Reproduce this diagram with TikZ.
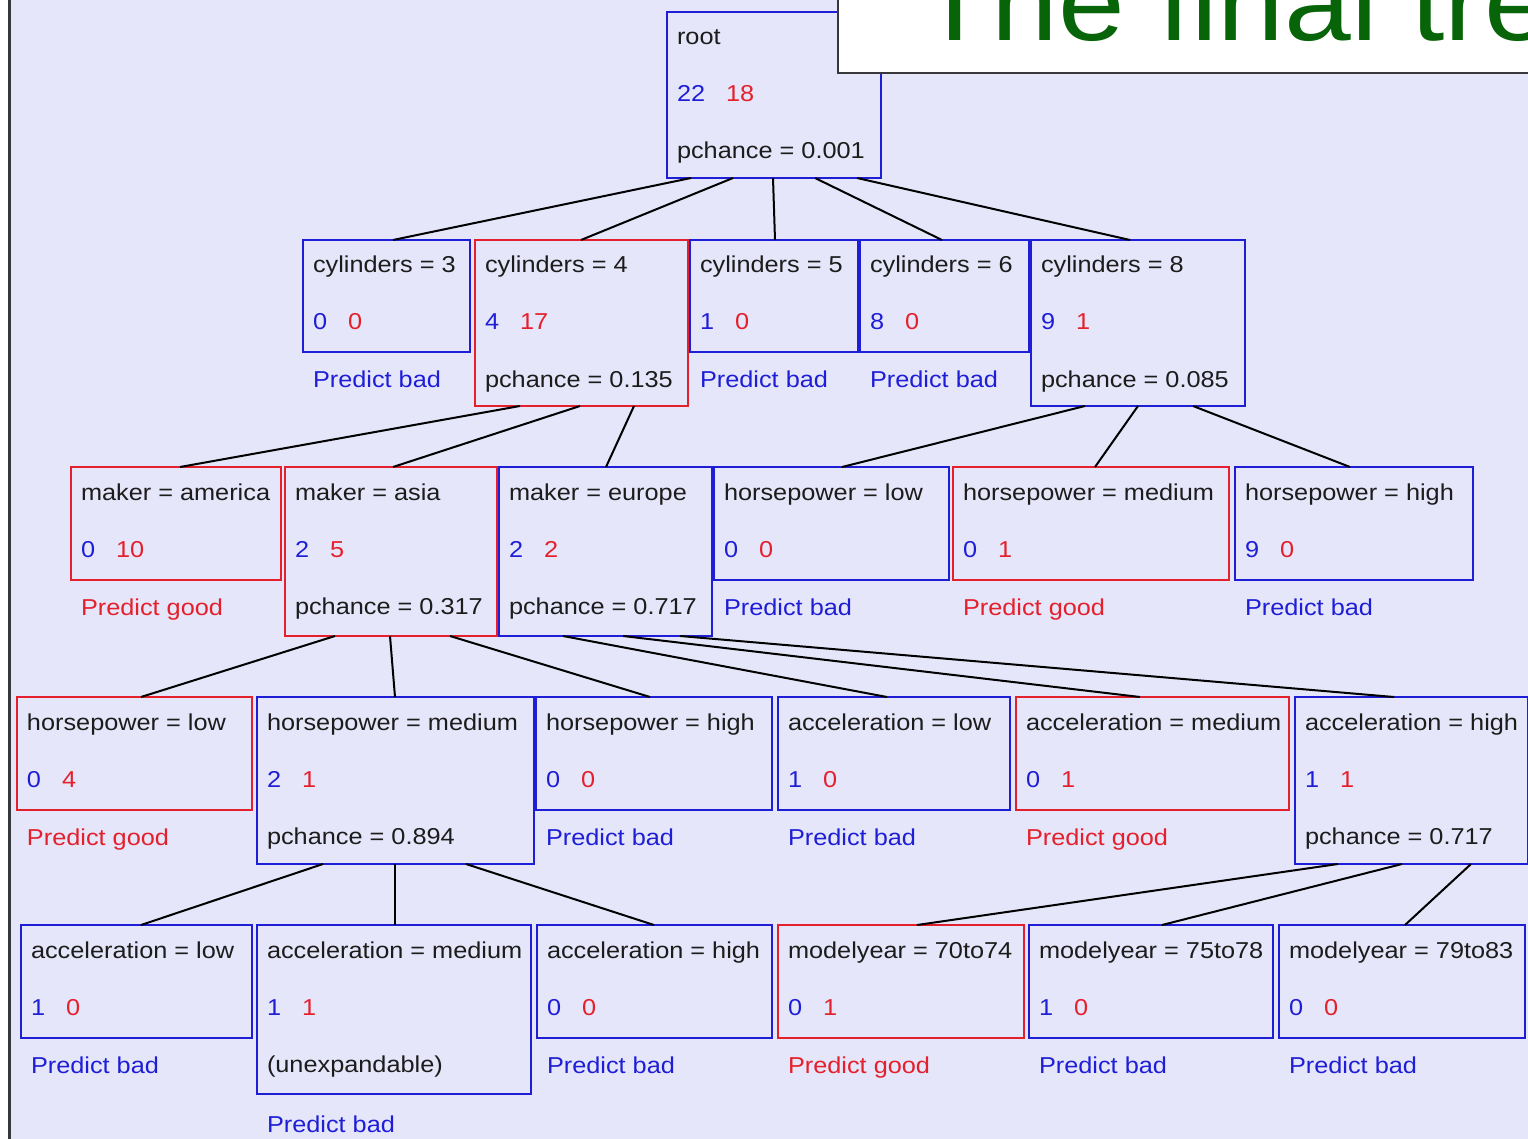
\documentclass[tikz,border=0pt]{standalone}
\usepackage{fontspec}
\newfontfamily\dfont[FakeStretch=1.1]{Liberation Sans}
\usetikzlibrary{calc}
\definecolor{bg}{RGB}{230,230,250}
\definecolor{bblue}{RGB}{30,30,215}
\definecolor{rred}{RGB}{228,32,44}
\definecolor{tgreen}{RGB}{8,100,8}
\definecolor{ink}{RGB}{28,28,28}
\definecolor{frame}{RGB}{55,55,60}
\newcommand\nums[2]{\textcolor{bblue}{#1}\hspace{21pt}\textcolor{rred}{#2}}
\newcommand\bx[6]{\node[box, draw=#6, minimum width={#4-#2}, minimum height={#5-#3}, anchor=north west] (#1) at (#2,#3) {};}
\newcommand\bline[5][txt]{\node[#1, anchor=base west] (#2) at ([xshift=10pt,yshift=-#4pt]#3.north west) {#5};}
\newcommand\edge[4]{\draw[conn] ([xshift=#2pt]#1.south west) -- ([xshift=#4pt]#3.north west);}
\begin{document}
\begin{tikzpicture}[x=1pt,y=-1pt,
  box/.style={line width=2pt, inner sep=0pt, outer sep=0pt},
  txt/.style={inner sep=0pt, outer sep=0pt, text=ink, font=\dfont\fontsize{23}{27}\selectfont},
  pb/.style={txt, text=bblue},
  pg/.style={txt, text=rred},
  conn/.style={line width=2pt, draw=black}]
\useasboundingbox (0,0) rectangle (1528,1139);
\fill[bg] (0,0) rectangle (1528,1139);
\fill[white] (0,0) rectangle (8,1139);
\draw[frame, line width=3pt] (9.5,0) -- (9.5,1139);

% level 0
\bx{root}{667}{12}{881}{178}{bblue}
\bline{root-a}{root}{33}{root}
\bline{root-b}{root}{90}{\nums{22}{18}}
\bline{root-c}{root}{147}{pchance = 0.001}

% title
\node[box, draw=frame, fill=white, minimum width=720, minimum height=80, anchor=north west] (titlebox) at (838,-7) {};
\node[anchor=base west, inner sep=0pt, text=tgreen, font=\dfont\fontsize{109}{110}\selectfont] (title) at (918,41) {The final tre};

% level 1
\bx{cyl3}{303}{240}{470}{352}{bblue}
\bline{cyl3-a}{cyl3}{33}{cylinders = 3}
\bline{cyl3-b}{cyl3}{90}{\nums{0}{0}}
\bline[pb]{cyl3-p}{cyl3}{148}{Predict bad}

\bx{cyl4}{475}{240}{688}{406}{rred}
\bline{cyl4-a}{cyl4}{33}{cylinders = 4}
\bline{cyl4-b}{cyl4}{90}{\nums{4}{17}}
\bline{cyl4-c}{cyl4}{147}{pchance = 0.135}

\bx{cyl5}{690}{240}{858}{352}{bblue}
\bline{cyl5-a}{cyl5}{33}{cylinders = 5}
\bline{cyl5-b}{cyl5}{90}{\nums{1}{0}}
\bline[pb]{cyl5-p}{cyl5}{148}{Predict bad}

\bx{cyl6}{860}{240}{1029}{352}{bblue}
\bline{cyl6-a}{cyl6}{33}{cylinders = 6}
\bline{cyl6-b}{cyl6}{90}{\nums{8}{0}}
\bline[pb]{cyl6-p}{cyl6}{148}{Predict bad}

\bx{cyl8}{1031}{240}{1245}{406}{bblue}
\bline{cyl8-a}{cyl8}{33}{cylinders = 8}
\bline{cyl8-b}{cyl8}{90}{\nums{9}{1}}
\bline{cyl8-c}{cyl8}{147}{pchance = 0.085}

% level 2
\bx{amer}{71}{467}{281}{580}{rred}
\bline{amer-a}{amer}{33}{maker = america}
\bline{amer-b}{amer}{90}{\nums{0}{10}}
\bline[pg]{amer-p}{amer}{148}{Predict good}

\bx{asia}{285}{467}{497}{636}{rred}
\bline{asia-a}{asia}{33}{maker = asia}
\bline{asia-b}{asia}{90}{\nums{2}{5}}
\bline{asia-c}{asia}{147}{pchance = 0.317}

\bx{euro}{499}{467}{712}{636}{bblue}
\bline{euro-a}{euro}{33}{maker = europe}
\bline{euro-b}{euro}{90}{\nums{2}{2}}
\bline{euro-c}{euro}{147}{pchance = 0.717}

\bx{hplo2}{714}{467}{949}{580}{bblue}
\bline{hplo2-a}{hplo2}{33}{horsepower = low}
\bline{hplo2-b}{hplo2}{90}{\nums{0}{0}}
\bline[pb]{hplo2-p}{hplo2}{148}{Predict bad}

\bx{hpme2}{953}{467}{1229}{580}{rred}
\bline{hpme2-a}{hpme2}{33}{horsepower = medium}
\bline{hpme2-b}{hpme2}{90}{\nums{0}{1}}
\bline[pg]{hpme2-p}{hpme2}{148}{Predict good}

\bx{hphi2}{1235}{467}{1473}{580}{bblue}
\bline{hphi2-a}{hphi2}{33}{horsepower = high}
\bline{hphi2-b}{hphi2}{90}{\nums{9}{0}}
\bline[pb]{hphi2-p}{hphi2}{148}{Predict bad}

% level 3
\bx{hplo3}{17}{697}{252}{810}{rred}
\bline{hplo3-a}{hplo3}{33}{horsepower = low}
\bline{hplo3-b}{hplo3}{90}{\nums{0}{4}}
\bline[pg]{hplo3-p}{hplo3}{148}{Predict good}

\bx{hpme3}{257}{697}{534}{864}{bblue}
\bline{hpme3-a}{hpme3}{33}{horsepower = medium}
\bline{hpme3-b}{hpme3}{90}{\nums{2}{1}}
\bline{hpme3-c}{hpme3}{147}{pchance = 0.894}

\bx{hphi3}{536}{697}{772}{810}{bblue}
\bline{hphi3-a}{hphi3}{33}{horsepower = high}
\bline{hphi3-b}{hphi3}{90}{\nums{0}{0}}
\bline[pb]{hphi3-p}{hphi3}{148}{Predict bad}

\bx{aclo3}{778}{697}{1010}{810}{bblue}
\bline{aclo3-a}{aclo3}{33}{acceleration = low}
\bline{aclo3-b}{aclo3}{90}{\nums{1}{0}}
\bline[pb]{aclo3-p}{aclo3}{148}{Predict bad}

\bx{acme3}{1016}{697}{1289}{810}{rred}
\bline{acme3-a}{acme3}{33}{acceleration = medium}
\bline{acme3-b}{acme3}{90}{\nums{0}{1}}
\bline[pg]{acme3-p}{acme3}{148}{Predict good}

\bx{achi3}{1295}{697}{1528}{864}{bblue}
\bline{achi3-a}{achi3}{33}{acceleration = high}
\bline{achi3-b}{achi3}{90}{\nums{1}{1}}
\bline{achi3-c}{achi3}{147}{pchance = 0.717}

% level 4
\bx{aclo4}{21}{925}{252}{1038}{bblue}
\bline{aclo4-a}{aclo4}{33}{acceleration = low}
\bline{aclo4-b}{aclo4}{90}{\nums{1}{0}}
\bline[pb]{aclo4-p}{aclo4}{148}{Predict bad}

\bx{acme4}{257}{925}{531}{1094}{bblue}
\bline{acme4-a}{acme4}{33}{acceleration = medium}
\bline{acme4-b}{acme4}{90}{\nums{1}{1}}
\bline{acme4-c}{acme4}{147}{(unexpandable)}
\bline[pb]{acme4-p}{acme4}{207}{Predict bad}

\bx{achi4}{537}{925}{772}{1038}{bblue}
\bline{achi4-a}{achi4}{33}{acceleration = high}
\bline{achi4-b}{achi4}{90}{\nums{0}{0}}
\bline[pb]{achi4-p}{achi4}{148}{Predict bad}

\bx{my70}{778}{925}{1024}{1038}{rred}
\bline{my70-a}{my70}{33}{modelyear = 70to74}
\bline{my70-b}{my70}{90}{\nums{0}{1}}
\bline[pg]{my70-p}{my70}{148}{Predict good}

\bx{my75}{1029}{925}{1273}{1038}{bblue}
\bline{my75-a}{my75}{33}{modelyear = 75to78}
\bline{my75-b}{my75}{90}{\nums{1}{0}}
\bline[pb]{my75-p}{my75}{148}{Predict bad}

\bx{my79}{1279}{925}{1525}{1038}{bblue}
\bline{my79-a}{my79}{33}{modelyear = 79to83}
\bline{my79-b}{my79}{90}{\nums{0}{0}}
\bline[pb]{my79-p}{my79}{148}{Predict bad}

% connectors
\edge{root}{24}{cyl3}{90}
\edge{root}{66}{cyl4}{106}
\edge{root}{106}{cyl5}{85}
\edge{root}{148}{cyl6}{82}
\edge{root}{190}{cyl8}{99}
\edge{cyl4}{45}{amer}{109}
\edge{cyl4}{105}{asia}{108}
\edge{cyl4}{159}{euro}{107}
\edge{cyl8}{54}{hplo2}{128}
\edge{cyl8}{107}{hpme2}{142}
\edge{cyl8}{162}{hphi2}{115}
\edge{asia}{50}{hplo3}{124}
\edge{asia}{105}{hpme3}{138}
\edge{asia}{165}{hphi3}{114}
\edge{euro}{64}{aclo3}{109}
\edge{euro}{124}{acme3}{124}
\edge{euro}{181}{achi3}{99}
\edge{hpme3}{66}{aclo4}{120}
\edge{hpme3}{138}{acme4}{138}
\edge{hpme3}{209}{achi4}{117}
\edge{achi3}{43}{my70}{139}
\edge{achi3}{107}{my75}{133}
\edge{achi3}{176}{my79}{126}
\end{tikzpicture}
\end{document}
